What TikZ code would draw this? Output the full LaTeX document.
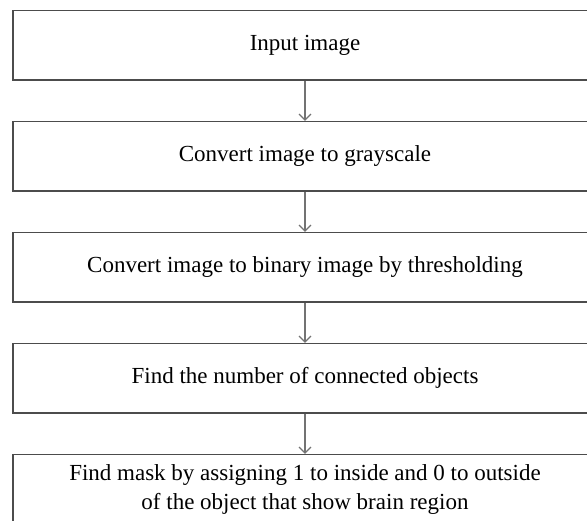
\documentclass[tikz,border=0pt]{standalone}
\usepackage{fontspec}
\setmainfont{Liberation Serif}
\usetikzlibrary{arrows.meta}
\definecolor{boxline}{gray}{0.30}
\definecolor{arrowgray}{gray}{0.45}
\begin{document}
\begin{tikzpicture}[x=1pt,y=1pt,
  stepbox/.style={draw=boxline, line width=1.4pt, minimum width=584pt,
    minimum height=69.5pt, inner sep=0pt, align=center,
    font=\fontsize{23}{28.8}\selectfont},
  flow/.style={draw=arrowgray, line width=1.2pt,
    -{Straight Barb[length=6pt,width=12pt,line width=1.2pt]}}]
  \useasboundingbox (0,0) rectangle (587,-520);
  \clip (0,0) rectangle (587,-520);
  \fill[white] (0,0) rectangle (587,-520);

  \node[stepbox] (s1) at (305,-45.3) {Input image};
  \node[stepbox] (s2) at (305,-156.3) {Convert image to grayscale};
  \node[stepbox] (s3) at (305,-267.3) {Convert image to binary image by thresholding};
  \node[stepbox] (s4) at (305,-378.3) {Find the number of connected objects};
  \node[stepbox] (s5) at (305,-489.3) {Find mask by assigning 1 to inside and 0 to outside\\of the object that show brain region};

  \draw[flow] (s1.south) -- (s2.north);
  \draw[flow] (s2.south) -- (s3.north);
  \draw[flow] (s3.south) -- (s4.north);
  \draw[flow] (s4.south) -- (s5.north);
\end{tikzpicture}
\end{document}
